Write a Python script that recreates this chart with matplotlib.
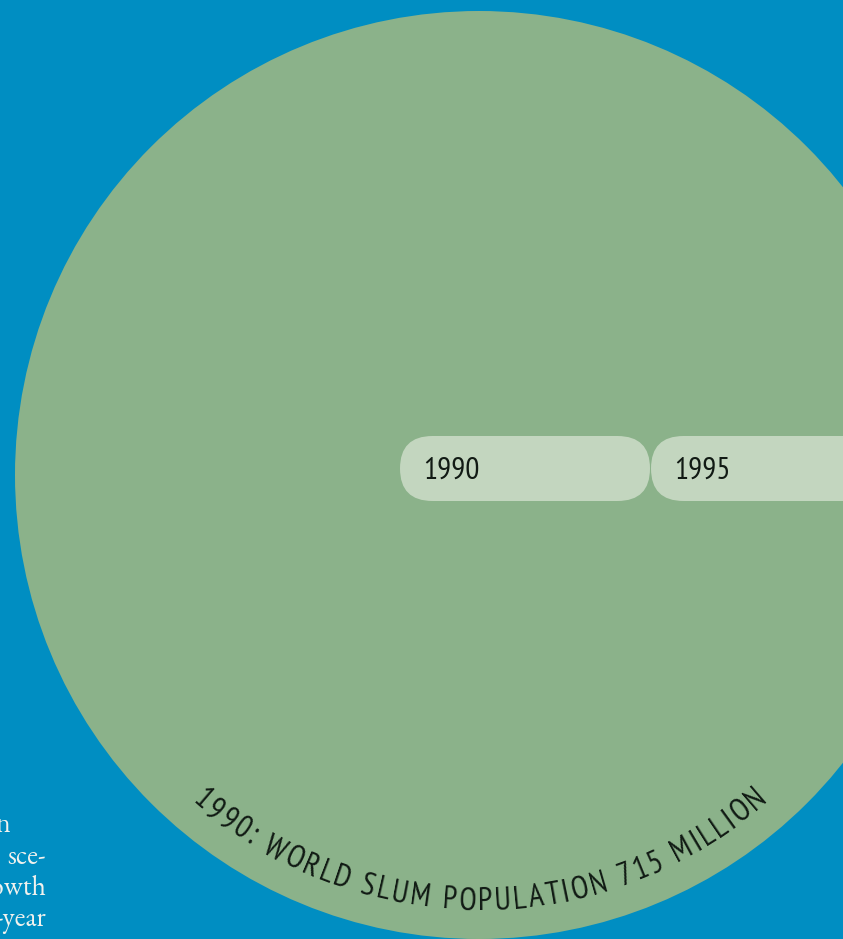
"""Slum population circle with year tabs and curved caption."""

import matplotlib

matplotlib.use("Agg")

import matplotlib.pyplot as plt  # noqa: E402
import numpy as np  # noqa: E402
from matplotlib.patches import Circle, FancyBboxPatch  # noqa: E402

BLUE = "#008ec2"
GREEN = "#8bb28a"
PILL = "#c3d6bf"
INK = "#111a14"
PAPER = "#f2f2ee"

years = ["1990", "1995"]
base_year = "1990"
slum_population_millions = 715
caption = f"{base_year}: WORLD SLUM POPULATION {slum_population_millions} MILLION"
side_text = ["n", "sce-", "owth", "-year"]

NARROW = ["PT Sans Narrow", "Roboto Condensed", "DejaVu Sans"]
SERIF = ["EB Garamond", "Liberation Serif", "DejaVu Serif"]

W, H = 843, 939
fig = plt.figure(figsize=(W / 100, H / 100), dpi=100)
fig.patch.set_facecolor(BLUE)
ax = fig.add_axes([0, 0, 1, 1])
ax.set_xlim(0, W)
ax.set_ylim(0, H)
ax.set_aspect("equal")
ax.axis("off")

cx, cy, r = 479, H - 475, 464
ax.add_patch(Circle((cx, cy), r, facecolor=GREEN, edgecolor="none"))

# year tabs
pill_h, pill_w = 65, 250
for i, yr in enumerate(years):
    x0 = 400 + i * 251
    y0 = H - 501
    ax.add_patch(FancyBboxPatch((x0, y0), pill_w, pill_h,
                                boxstyle=f"round,pad=0,rounding_size={pill_h / 2}",
                                facecolor=PILL, edgecolor="none"))
    ax.text(x0 + 23, y0 + pill_h / 2 - 2, yr, family=NARROW, fontsize=22.5,
            color=INK, ha="left", va="center")

# curved caption along the bottom of the circle
r_text = 435
a_start, a_end = np.radians(-131.5), np.radians(-48.3)
renderer = fig.canvas.get_renderer()
widths = []
for ch in caption:
    t = ax.text(0, 0, ch if ch != " " else "n", family=NARROW, fontsize=23)
    w = t.get_window_extent(renderer).width
    t.remove()
    widths.append(w * (0.55 if ch == " " else 1.0))
widths = np.array(widths)
arc_len = (a_end - a_start) * r_text
track = (arc_len - widths.sum()) / (len(caption) - 1)
pos = a_start * r_text
for ch, w in zip(caption, widths):
    mid = (pos + w / 2) / r_text
    x = cx + r_text * np.cos(mid)
    y = cy + r_text * np.sin(mid)
    ax.text(x, y, ch, family=NARROW, fontsize=23, color=INK,
            rotation=np.degrees(mid) + 90, rotation_mode="anchor",
            ha="center", va="baseline")
    pos += w + track

# clipped paragraph on the left edge
right_edges = [10, 46, 46, 46]
for i, (line, xr) in enumerate(zip(side_text, right_edges)):
    ax.text(xr, H - 832 - i * 31.5, line, family=SERIF,
            fontsize=20, color=PAPER, ha="right", va="baseline")

fig.savefig("out.png", dpi=100, facecolor=BLUE)
